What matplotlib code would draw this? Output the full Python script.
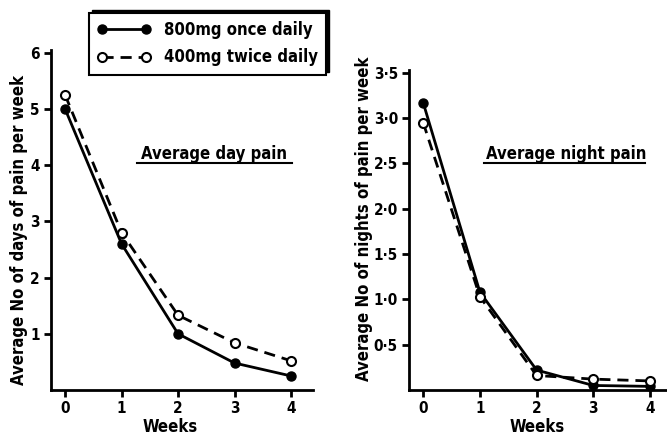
import matplotlib
matplotlib.use("Agg")
import matplotlib.pyplot as plt
from matplotlib.patches import Rectangle

# data
weeks = [0, 1, 2, 3, 4]
day_once = [5.0, 2.6, 1.0, 0.48, 0.25]
day_twice = [5.25, 2.8, 1.33, 0.84, 0.52]
night_once = [3.17, 1.08, 0.22, 0.05, 0.04]
night_twice = [2.95, 1.03, 0.16, 0.12, 0.10]

day_ticks = [1, 2, 3, 4, 5, 6]
day_ticklabels = ['1', '2', '3', '4', '5', '6']
night_ticks = [0.5, 1.0, 1.5, 2.0, 2.5, 3.0, 3.5]
night_ticklabels = ['0·5', '1·0', '1·5', '2·0', '2·5', '3·0', '3·5']

plt.rcParams['font.family'] = 'DejaVu Sans'
plt.rcParams['font.weight'] = 'bold'
plt.rcParams['axes.labelweight'] = 'bold'
plt.rcParams['font.stretch'] = 'condensed'

W, H = 667, 440
fig = plt.figure(figsize=(W / 100, H / 100), dpi=100)


def px_axes(x0, y0, x1, y1):
    # pixel box (top-left origin) -> figure fraction
    return fig.add_axes([x0 / W, 1 - y1 / H, (x1 - x0) / W, (y1 - y0) / H])


def style_axes(ax):
    for s in ['top', 'right']:
        ax.spines[s].set_visible(False)
    for s in ['left', 'bottom']:
        ax.spines[s].set_linewidth(2)
    ax.tick_params(width=2, length=5, labelsize=11, pad=3)


def draw_series(ax, once, twice):
    ax.plot(weeks, once, '-', color='black', lw=2, marker='o', ms=6.5,
            mfc='black', mec='black', clip_on=False, zorder=3)
    ax.plot(weeks, twice, '--', color='black', lw=2, marker='o', ms=6.5,
            mfc='white', mec='black', mew=1.5, dashes=(4, 2.5), clip_on=False, zorder=4)


# left panel: day pain
ax1 = px_axes(51, 50, 313, 390)
style_axes(ax1)
draw_series(ax1, day_once, day_twice)
ax1.set_xlim(-0.25, 4.39)
ax1.set_ylim(0, 6.05)
ax1.set_xticks(weeks)
ax1.set_yticks(day_ticks)
ax1.set_yticklabels(day_ticklabels)
ax1.set_ylabel('Average No of days of pain per week', fontsize=12)
ax1.yaxis.set_label_coords(-0.088, 0.47)
ax1.set_xlabel('Weeks', fontsize=12)
ax1.xaxis.set_label_coords(0.454, -0.082)
ax1.text(0.622, 0.68, 'Average day pain', transform=ax1.transAxes,
         ha='center', va='baseline', fontsize=12)
ax1.plot([0.328, 0.92], [0.668, 0.668], color='black', lw=1.5,
         transform=ax1.transAxes, clip_on=False)

# right panel: night pain
ax2 = px_axes(409, 70, 667, 390)
style_axes(ax2)
draw_series(ax2, night_once, night_twice)
ax2.set_xlim(-0.25, 4.3)
ax2.set_ylim(0, 3.53)
ax2.set_xticks(weeks)
ax2.set_yticks(night_ticks)
ax2.set_yticklabels(night_ticklabels)
ax2.set_ylabel('Average No of nights of pain per week', fontsize=12)
ax2.yaxis.set_label_coords(-0.138, 0.534)
ax2.set_xlabel('Weeks', fontsize=12)
ax2.xaxis.set_label_coords(0.496, -0.0875)
ax2.text(0.608, 0.722, 'Average night pain', transform=ax2.transAxes,
         ha='center', va='baseline', fontsize=12)
ax2.plot([0.29, 0.915], [0.709, 0.709], color='black', lw=1.5,
         transform=ax2.transAxes, clip_on=False)

# legend with offset shadow (up and right)
handles = ax1.get_lines()[:2]
leg = fig.legend(handles, ['800mg once daily', '400mg twice daily'],
                 loc='upper left', bbox_to_anchor=(89 / W, 1 - 13 / H),
                 borderaxespad=0, fancybox=False, edgecolor='black',
                 framealpha=1, fontsize=12, handlelength=3.2,
                 labelspacing=0.55, borderpad=0.5, handletextpad=0.8, numpoints=2)
leg.get_frame().set_linewidth(1.5)
leg.set_zorder(10)

fig.canvas.draw()
bb = leg.get_window_extent()
off = 3
shadow = Rectangle(((bb.x0 + off) / W, (bb.y0 + off) / H), bb.width / W, bb.height / H,
                   transform=fig.transFigure, facecolor='black', edgecolor='black',
                   zorder=9)
fig.patches.append(shadow)

fig.savefig('out.png', dpi=100)
